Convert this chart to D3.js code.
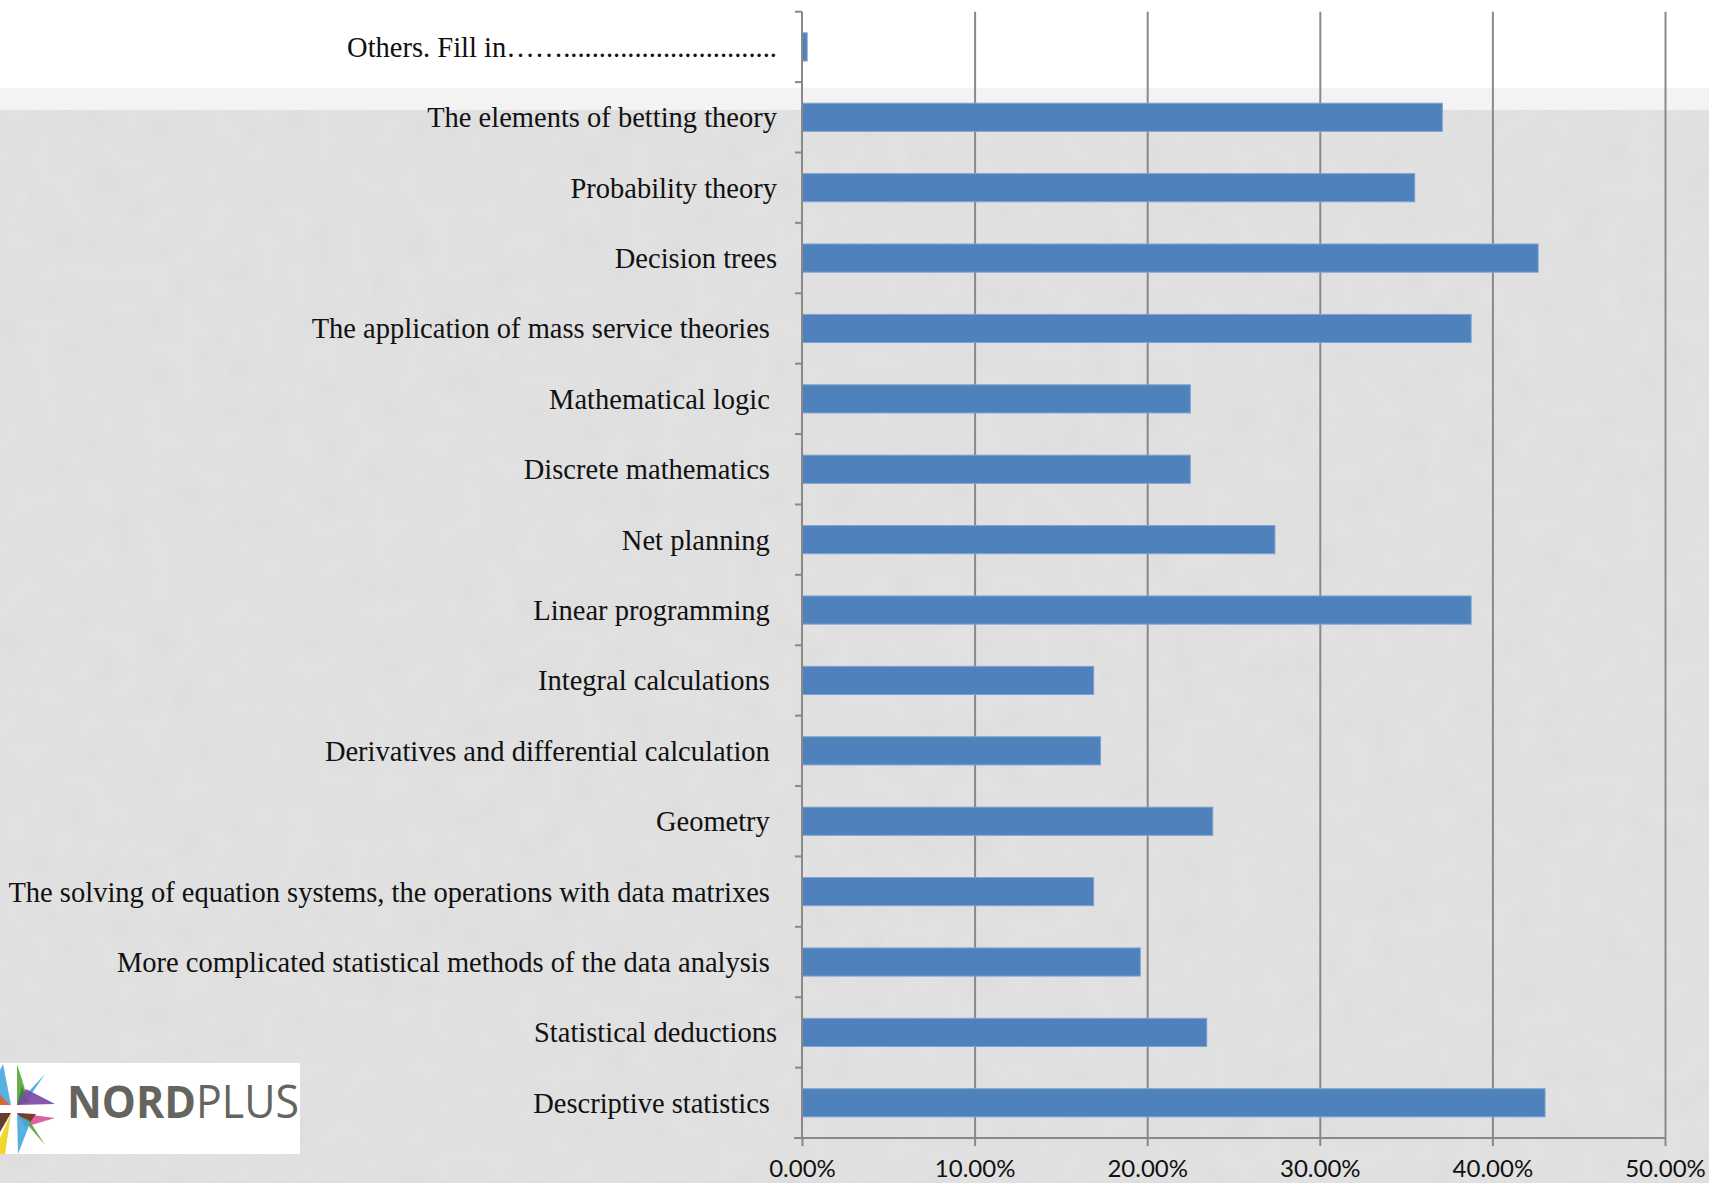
<!DOCTYPE html>
<html>
  <head>
    <meta charset="utf-8">
    <title>Mathematics topics</title>
    <script src="https://d3js.org/d3.v7.min.js"></script>
    <style>
      body { margin: 0; overflow: hidden; background: #fff; }
      #chart { position: fixed; left: 0; top: 0; right: 0; bottom: 0; }
      .cat { font-family: "Liberation Serif", "DejaVu Serif", serif; font-size: 28.5px; fill: #111; white-space: pre; }
      .xtick text { font-family: Lato, "Open Sans", sans-serif; font-size: 24px; fill: #111; }
    </style>
  </head>
  <body>
    <div id="chart"></div>
    <script>

      // categories top to bottom (trailing spaces are in the original labels)
      const topics = [
        'Others. Fill in\u2026\u2026' + '.'.repeat(30),
        'The elements of betting theory',
        'Probability theory',
        'Decision trees',
        'The application of mass service theories ',
        'Mathematical logic ',
        'Discrete mathematics ',
        'Net planning ',
        'Linear programming ',
        'Integral calculations ',
        'Derivatives and differential calculation ',
        'Geometry ',
        'The solving of equation systems, the operations with data matrixes ',
        'More complicated statistical methods of the data analysis ',
        'Statistical deductions',
        'Descriptive statistics '
      ];
      const shares = [0.003, 0.371, 0.355, 0.4265, 0.3877, 0.225, 0.225, 0.274, 0.3877,
                      0.169, 0.173, 0.238, 0.169, 0.196, 0.2345, 0.4305];
      const xTicks = [0, 0.1, 0.2, 0.3, 0.4, 0.5];

      const width = 1709, height = 1183;
      const margin = { left: 802, right: 44, top: 11.7, bottom: 45 };

      const svg = d3.select('#chart').append('svg')
          .attr('width', width)
          .attr('height', height);

      // slide background: white top, pale strip, grey textured body
      const defs = svg.append('defs');
      const f = defs.append('filter').attr('id', 'mottle')
          .attr('x', 0).attr('y', 0).attr('width', 1).attr('height', 1);
      f.append('feTurbulence').attr('type', 'fractalNoise')
          .attr('baseFrequency', 0.035).attr('numOctaves', 3).attr('seed', 4);
      f.append('feColorMatrix').attr('type', 'matrix')
          .attr('values', '0 0 0 0 0.55  0 0 0 0 0.55  0 0 0 0 0.55  0 0 0 -1.6 1.0');
      f.append('feComponentTransfer').append('feFuncA').attr('type', 'linear').attr('slope', 0.14);

      svg.append('rect').attr('width', width).attr('height', 88).attr('fill', '#ffffff');
      svg.append('rect').attr('y', 88).attr('width', width).attr('height', 22).attr('fill', '#f3f3f3');
      svg.append('rect').attr('y', 110).attr('width', width).attr('height', height - 110).attr('fill', '#e1e1e1');
      svg.append('rect').attr('y', 110).attr('width', width).attr('height', height - 110)
          .attr('filter', 'url(#mottle)');

      const x = d3.scaleLinear()
          .domain([0, 0.5])
          .range([margin.left, width - margin.right]);

      const y = d3.scaleBand()
          .domain(topics)
          .range([margin.top, height - margin.bottom])
          .paddingInner(0.6)
          .paddingOuter(0.3);

      const bottom = height - margin.bottom;

      // vertical gridlines
      svg.append('g')
          .attr('transform', `translate(0,${bottom})`)
          .call(d3.axisBottom(x).tickValues(xTicks.slice(1)).tickSize(-(bottom - margin.top)).tickFormat(''))
          .call(g => g.select('.domain').remove())
          .call(g => g.selectAll('line').attr('stroke', '#898989').attr('stroke-width', 2));

      // bars
      svg.append('g').selectAll('rect')
        .data(topics)
        .join('rect')
          .attr('x', x(0))
          .attr('y', d => y(d))
          .attr('width', (d, i) => x(shares[i]) - x(0))
          .attr('height', y.bandwidth())
          .attr('fill', '#4f81bd')
          .attr('stroke', '#7ea3d1')
          .attr('stroke-width', 1);

      // x axis
      svg.append('g')
          .attr('class', 'xtick')
          .attr('transform', `translate(0,${bottom})`)
          .call(d3.axisBottom(x).tickValues(xTicks).tickSize(8).tickPadding(14).tickFormat(d3.format('.2%')))
          .call(g => g.select('.domain').attr('stroke', '#898989').attr('stroke-width', 2)
                      .attr('d', `M${margin.left - 8},0H${x(0.5)}`))
          .call(g => g.selectAll('line').attr('stroke', '#898989').attr('stroke-width', 2));

      // y axis line with ticks at category boundaries
      const yAxisG = svg.append('g');
      yAxisG.append('line')
          .attr('x1', x(0)).attr('x2', x(0))
          .attr('y1', margin.top).attr('y2', bottom)
          .attr('stroke', '#898989').attr('stroke-width', 2);
      yAxisG.selectAll('.bt')
        .data(d3.range(topics.length + 1))
        .join('line')
          .attr('class', 'bt')
          .attr('x1', x(0) - 7).attr('x2', x(0))
          .attr('y1', i => y.range()[0] + i * y.step())
          .attr('y2', i => y.range()[0] + i * y.step())
          .attr('stroke', '#898989').attr('stroke-width', 2);

      svg.append('g').selectAll('text')
        .data(topics)
        .join('text')
          .attr('class', 'cat')
          .attr('x', 777)
          .attr('y', d => y(d) + y.bandwidth() / 2)
          .attr('dy', '0.35em')
          .attr('text-anchor', 'end')
          .text(d => d);

      // Nordplus logo
      const logo = svg.append('g');
      logo.append('rect').attr('x', 0).attr('y', 1063).attr('width', 300).attr('height', 91).attr('fill', '#fff');
      const shards = [
        ['#4aa9df', [[11,1105],[3,1064],[0,1070],[0,1105]]],
        ['#e0622c', [[10,1105],[0,1095],[0,1105]]],
        ['#5aa63a', [[17,1105],[17,1064],[29,1102]]],
        ['#3f7d3a', [[17,1105],[22,1086],[27,1102]]],
        ['#4aa9df', [[19,1102],[45,1074],[28,1099]]],
        ['#7b4aa6', [[17,1105],[55,1104],[26,1089]]],
        ['#d9539c', [[17,1113],[55,1118],[28,1126]]],
        ['#6e3a22', [[17,1113],[36,1114],[26,1128]]],
        ['#5aa63a', [[21,1117],[45,1145],[29,1120]]],
        ['#4aa9df', [[17,1114],[18,1154],[30,1123]]],
        ['#5a2e1c', [[11,1113],[0,1113],[0,1132]]],
        ['#f1d21c', [[11,1114],[5,1154],[0,1154],[0,1138]]]
      ];
      logo.selectAll('polygon')
        .data(shards)
        .join('polygon')
          .attr('points', d => d[1].map(p => p.join(',')).join(' '))
          .attr('fill', d => d[0])
          .attr('fill-opacity', 0.92);
      const lt = logo.append('text')
          .attr('x', 67).attr('y', 1118)
          .attr('font-family', '"Open Sans", sans-serif')
          .attr('font-size', 45)
          .attr('fill', '#64655e')
          .attr('textLength', 232)
          .attr('lengthAdjust', 'spacingAndGlyphs');
      lt.append('tspan').attr('font-weight', 700).text('NORD');
      lt.append('tspan').attr('font-weight', 400).text('PLUS');

    </script>
  </body>
</html>
